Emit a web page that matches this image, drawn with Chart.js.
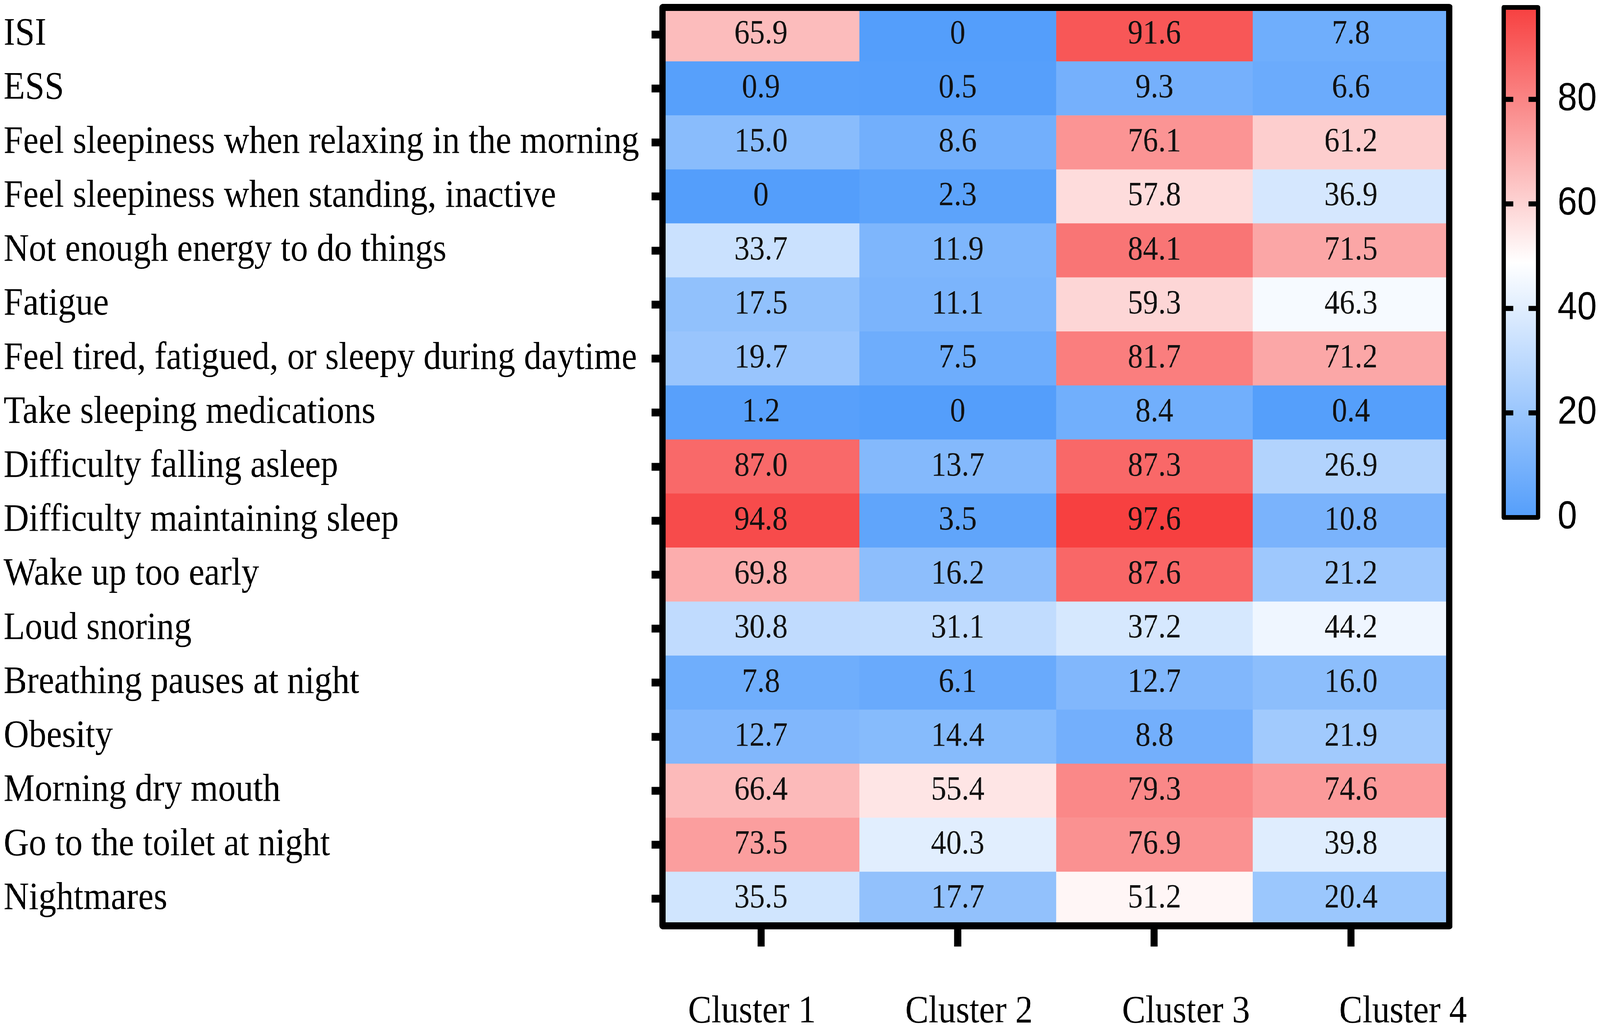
<!DOCTYPE html>
<html>
<head>
<meta charset="utf-8">
<script src="https://cdn.jsdelivr.net/npm/chart.js@4.4.1/dist/chart.umd.min.js"></script>
<style>
  html, body { margin: 0; padding: 0; background: #fff; overflow: hidden; }
  #wrap { position: absolute; left: 0; top: 0; width: 4513px; height: 2633px; transform-origin: 0 0; }
  #heatmap { position: absolute; left: 0; top: 0; }
  #colorbar { position: absolute; left: 4150px; top: 0; }
</style>
</head>
<body>
<div id="wrap">
  <canvas id="heatmap" width="4150" height="2633"></canvas>
  <canvas id="colorbar" width="363" height="1400"></canvas>
</div>
<script>
const rowLabels = [
    'ISI',
    'ESS',
    'Feel sleepiness when relaxing in the morning',
    'Feel sleepiness when standing, inactive',
    'Not enough energy to do things',
    'Fatigue',
    'Feel tired, fatigued, or sleepy during daytime',
    'Take sleeping medications',
    'Difficulty falling asleep',
    'Difficulty maintaining sleep',
    'Wake up too early',
    'Loud snoring',
    'Breathing pauses at night',
    'Obesity',
    'Morning dry mouth',
    'Go to the toilet at night',
    'Nightmares'
];
const clusterLabels = ['Cluster 1', 'Cluster 2', 'Cluster 3', 'Cluster 4'];

const cluster1 = [65.9, 0.9, 15.0, 0, 33.7, 17.5, 19.7, 1.2, 87.0, 94.8, 69.8, 30.8, 7.8, 12.7, 66.4, 73.5, 35.5];
const cluster2 = [0, 0.5, 8.6, 2.3, 11.9, 11.1, 7.5, 0, 13.7, 3.5, 16.2, 31.1, 6.1, 14.4, 55.4, 40.3, 17.7];
const cluster3 = [91.6, 9.3, 76.1, 57.8, 84.1, 59.3, 81.7, 8.4, 87.3, 97.6, 87.6, 37.2, 12.7, 8.8, 79.3, 76.9, 51.2];
const cluster4 = [7.8, 6.6, 61.2, 36.9, 71.5, 46.3, 71.2, 0.4, 26.9, 10.8, 21.2, 44.2, 16.0, 21.9, 74.6, 39.8, 20.4];
const clusterValues = [cluster1, cluster2, cluster3, cluster4];

const colorTicks = [0, 20, 40, 60, 80];

const LOW = [84, 158, 251];
const MID = [255, 255, 255];
const HIGH = [247, 64, 64];
const colorMin = 0;
const colorMax = Math.max(...clusterValues.flat());

// the page is laid out at 4513 x 2633 and fitted to whatever window we get
const wrap = document.getElementById('wrap');
wrap.style.transform = `scale(${window.innerWidth / 4513}, ${window.innerHeight / 2633})`;

function mix(a, b, t) {
    return a.map((c, i) => Math.round(c + (b[i] - c) * t));
}

function heatColor(v) {
    const t = (v - colorMin) / (colorMax - colorMin);
    const c = t < 0.5 ? mix(LOW, MID, t / 0.5) : mix(MID, HIGH, (t - 0.5) / 0.5);
    return `rgb(${c[0]}, ${c[1]}, ${c[2]})`;
}

function cellText(v) {
    return v === 0 ? '0' : v.toFixed(1);
}

// keep Chart.js from shrinking the plot for label overhang
function fixSize(prop, size) {
    return s => {
        s[prop] = size;
        s.paddingTop = 0;
        s.paddingBottom = 0;
        s.paddingLeft = 0;
        s.paddingRight = 0;
    };
}

Chart.defaults.font.family = '"Liberation Serif", "Times New Roman", serif';
Chart.defaults.color = '#000';

// frame round the plot area, drawn over the cells
const framePlugin = {
    id: 'frame',
    afterDatasetsDraw(chart, args, opts) {
        const { ctx, chartArea } = chart;
        ctx.save();
        ctx.strokeStyle = '#000';
        ctx.lineWidth = opts.width;
        ctx.lineJoin = 'round';
        ctx.strokeRect(chartArea.left, chartArea.top, chartArea.right - chartArea.left, chartArea.bottom - chartArea.top);
        ctx.restore();
    }
};

// numbers in the cells
const cellLabelPlugin = {
    id: 'cellLabels',
    afterDatasetsDraw(chart) {
        const { ctx } = chart;
        ctx.save();
        ctx.font = '86px "Liberation Serif", "Times New Roman", serif';
        ctx.fillStyle = '#111';
        ctx.textAlign = 'center';
        ctx.textBaseline = 'middle';
        chart.data.datasets.forEach((ds, i) => {
            chart.getDatasetMeta(i).data.forEach((bar, j) => {
                const p = bar.getCenterPoint();
                ctx.fillText(cellText(clusterValues[i][j]), p.x, p.y);
            });
        });
        ctx.restore();
    }
};

const heatmapChart = new Chart(document.getElementById('heatmap'), {
    type: 'bar',
    data: {
        labels: rowLabels,
        datasets: clusterValues.map((values, c) => ({
            label: clusterLabels[c],
            data: values.map(() => [c, c + 1]),
            backgroundColor: values.map(heatColor),
            borderWidth: 0,
            barPercentage: 1,
            categoryPercentage: 1,
            grouped: false,
            xAxisID: 'x',
            yAxisID: 'y'
        }))
    },
    options: {
        indexAxis: 'y',
        responsive: false,
        devicePixelRatio: 1,
        animation: false,
        layout: { padding: { left: 10, right: 62, top: 19, bottom: 0 } },
        plugins: {
            legend: { display: false },
            tooltip: { enabled: false },
            frame: { width: 18 }
        },
        scales: {
            y: {
                type: 'category',
                offset: true,
                border: { display: false },
                grid: { offset: false, drawOnChartArea: false, tickLength: 31, tickWidth: 20, tickColor: '#000' },
                ticks: { crossAlign: 'far', autoSkip: false, font: { size: 99 }, color: '#000' },
                afterFit: fixSize('width', 1859)
            },
            x: {
                type: 'linear',
                position: 'bottom',
                weight: 0,
                min: 0,
                max: clusterLabels.length,
                border: { display: false },
                grid: { drawOnChartArea: false, tickLength: 53, tickWidth: 20, tickColor: '#000' },
                ticks: { display: false },
                afterBuildTicks(s) { s.ticks = clusterLabels.map((_, i) => ({ value: i + 0.5 })); },
                afterFit: fixSize('height', 53)
            },
            // the cluster names sit a bit wider apart than the columns
            xl: {
                type: 'linear',
                position: 'bottom',
                weight: 1,
                min: 0.088,
                max: 3.714,
                border: { display: false },
                grid: { display: false, drawTicks: false },
                ticks: {
                    padding: 109,
                    maxRotation: 0,
                    autoSkip: false,
                    font: { size: 99 },
                    color: '#000',
                    callback: (v, i) => clusterLabels[i]
                },
                afterBuildTicks(s) { s.ticks = clusterLabels.map((_, i) => ({ value: i + 0.5 })); },
                afterFit: fixSize('height', 211)
            }
        }
    },
    plugins: [cellLabelPlugin, framePlugin]
});

// colour scale bar
const colorbarTicksPlugin = {
    id: 'colorbarTicks',
    afterDatasetsDraw(chart) {
        const { ctx, chartArea } = chart;
        const y = chart.scales.y;
        ctx.save();
        ctx.strokeStyle = '#000';
        ctx.lineWidth = 13;
        colorTicks.filter(t => t > colorMin).forEach(t => {
            const py = y.getPixelForValue(t);
            ctx.beginPath();
            ctx.moveTo(chartArea.left, py);
            ctx.lineTo(chartArea.left + 27, py);
            ctx.moveTo(chartArea.right - 27, py);
            ctx.lineTo(chartArea.right, py);
            ctx.stroke();
        });
        ctx.lineWidth = 12;
        ctx.lineJoin = 'round';
        ctx.strokeRect(chartArea.left, chartArea.top, chartArea.right - chartArea.left, chartArea.bottom - chartArea.top);
        ctx.restore();
    }
};

const colorbarChart = new Chart(document.getElementById('colorbar'), {
    type: 'bar',
    data: {
        labels: [''],
        datasets: [{
            data: [[colorMin, colorMax]],
            backgroundColor(context) {
                const area = context.chart.chartArea;
                if (!area) return heatColor(colorMin);
                const g = context.chart.ctx.createLinearGradient(0, area.bottom, 0, area.top);
                g.addColorStop(0, heatColor(colorMin));
                g.addColorStop(0.5, heatColor((colorMin + colorMax) / 2));
                g.addColorStop(1, heatColor(colorMax));
                return g;
            },
            borderWidth: 0,
            barPercentage: 1,
            categoryPercentage: 1
        }]
    },
    options: {
        responsive: false,
        devicePixelRatio: 1,
        animation: false,
        layout: { padding: { left: 91, right: 0, top: 19, bottom: 76 } },
        plugins: { legend: { display: false }, tooltip: { enabled: false } },
        scales: {
            x: { display: false },
            y: {
                position: 'right',
                min: colorMin,
                max: colorMax,
                border: { display: false },
                grid: { display: false, drawTicks: false },
                ticks: {
                    padding: 55,
                    font: { family: '"Liberation Sans", Arial, sans-serif', size: 100 },
                    color: '#000'
                },
                afterBuildTicks(s) { s.ticks = colorTicks.map(v => ({ value: v })); },
                afterFit: fixSize('width', 175)
            }
        }
    },
    plugins: [colorbarTicksPlugin]
});
</script>
</body>
</html>
